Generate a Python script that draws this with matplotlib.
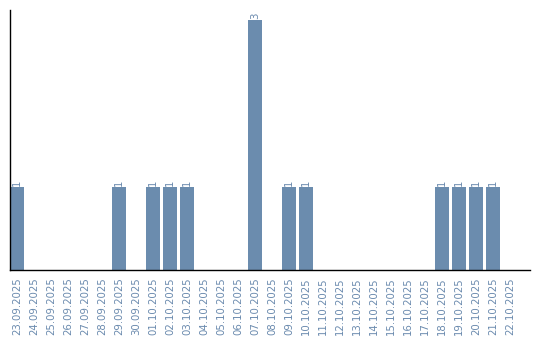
import matplotlib
matplotlib.use('Agg')
import matplotlib.pyplot as plt

# Dates and counts
dates = ['23.09.2025', '24.09.2025', '25.09.2025', '26.09.2025', '27.09.2025',
         '28.09.2025', '29.09.2025', '30.09.2025', '01.10.2025', '02.10.2025',
         '03.10.2025', '04.10.2025', '05.10.2025', '06.10.2025', '07.10.2025',
         '08.10.2025', '09.10.2025', '10.10.2025', '11.10.2025', '12.10.2025',
         '13.10.2025', '14.10.2025', '15.10.2025', '16.10.2025', '17.10.2025',
         '18.10.2025', '19.10.2025', '20.10.2025', '21.10.2025', '22.10.2025']
counts = [1, 0, 0, 0, 0, 0, 1, 0, 1, 1,
          1, 0, 0, 0, 3, 0, 1, 1, 0, 0,
          0, 0, 0, 0, 0, 1, 1, 1, 1, 0]

bar_color = '#6b8cae'
text_color = '#6a8aae'

fig = plt.figure(figsize=(5.4, 3.4), dpi=100)
ax = fig.add_axes([10 / 540, 70 / 340, 520 / 540, 260 / 340])

x = list(range(len(dates)))
bars = ax.bar(x, counts, width=0.82, color=bar_color)

# value labels above non-zero bars
for xi, c in zip(x, counts):
    if c > 0:
        ax.text(xi, c + 0.01, str(c), rotation=90, ha='center', va='bottom',
                fontsize=7.3, color=text_color)

ax.set_xticks(x)
ax.set_xticklabels(dates, rotation=90, fontsize=7.3, color=text_color)
ax.tick_params(axis='x', length=0, pad=5)
ax.set_yticks([])
ax.set_xlim(-0.41, 30.18)
ax.set_ylim(0, 3.12)

for side in ['top', 'right']:
    ax.spines[side].set_visible(False)
ax.spines['left'].set_linewidth(1)
ax.spines['bottom'].set_linewidth(1)

fig.savefig('out.png', dpi=100)
